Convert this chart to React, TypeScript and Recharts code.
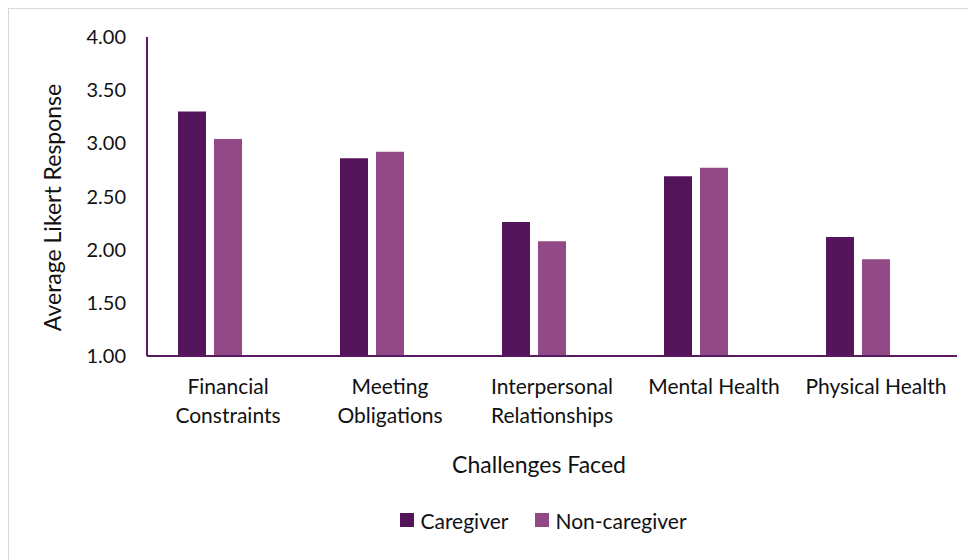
import React from "react";
import { BarChart, Bar, XAxis, YAxis, Legend, Label } from "recharts";

const categories = [
  "Financial Constraints",
  "Meeting Obligations",
  "Interpersonal Relationships",
  "Mental Health",
  "Physical Health",
];
const caregiver = [3.3, 2.86, 2.26, 2.69, 2.12];
const nonCaregiver = [3.04, 2.92, 2.08, 2.77, 1.91];
const yTicks = [1.0, 1.5, 2.0, 2.5, 3.0, 3.5, 4.0];

const data = categories.map((c, i) => ({
  name: c,
  Caregiver: caregiver[i],
  "Non-caregiver": nonCaregiver[i],
  blank: null,
}));

const FONT = "Lato, 'Noto Sans', sans-serif";
const TEXT = "#111111";
const AXIS = "#5a1a62";
const C1 = "#54145a";
const C2 = "#924a87";
const TICK_FS = 21;

let ctx: CanvasRenderingContext2D | null = null;
const measure = (s: string) => {
  if (!ctx) ctx = document.createElement("canvas").getContext("2d");
  if (!ctx) return s.length * TICK_FS * 0.5;
  ctx.font = `${TICK_FS}px Lato`;
  return ctx.measureText(s).width;
};

const wrap = (s: string, maxW: number) => {
  const words = s.split(" ");
  const lines: string[] = [];
  let cur = "";
  words.forEach((w) => {
    const t = cur ? cur + " " + w : w;
    if (cur && measure(t) > maxW) {
      lines.push(cur);
      cur = w;
    } else cur = t;
  });
  if (cur) lines.push(cur);
  return lines;
};

const CatTick = (props: any) => {
  const { x, y, payload } = props;
  const lines = wrap(String(payload.value), 156);
  return (
    <text x={x} y={y} textAnchor="middle" fontSize={TICK_FS} fontFamily={FONT} fill={TEXT}>
      {lines.map((l, i) => (
        <tspan key={i} x={x} dy={i === 0 ? 15 : 29}>
          {l}
        </tspan>
      ))}
    </text>
  );
};

const LegendContent = () => {
  const items = [
    { label: "Caregiver", color: C1 },
    { label: "Non-caregiver", color: C2 },
  ];
  return (
    <div
      style={{
        display: "flex",
        justifyContent: "center",
        alignItems: "center",
        height: 40,
        fontFamily: FONT,
        fontSize: 21,
        color: TEXT,
        paddingLeft: 103,
        boxSizing: "border-box",
        width: 968,
      }}
    >
      {items.map((it, i) => (
        <div key={i} style={{ display: "flex", alignItems: "center", marginRight: i === 0 ? 27 : 0 }}>
          <span style={{ width: 14, height: 14, background: it.color, display: "inline-block", marginRight: 6 }} />
          <span>{it.label}</span>
        </div>
      ))}
    </div>
  );
};

const YTitle = (props: any) => {
  const vb = props.viewBox;
  const x = vb.x + 44;
  const y = vb.y + vb.height / 2 + 11;
  return (
    <text
      x={x}
      y={y}
      transform={`rotate(-90 ${x} ${y})`}
      textAnchor="middle"
      dominantBaseline="central"
      fontSize={23}
      fontFamily={FONT}
      fill={TEXT}
    >
      Average Likert Response
    </text>
  );
};

const XTitle = (props: any) => {
  const vb = props.viewBox;
  const x = vb.x + vb.width / 2 - 13;
  const y = vb.y + 108;
  return (
    <text x={x} y={y} textAnchor="middle" dominantBaseline="central" fontSize={23} fontFamily={FONT} fill={TEXT}>
      Challenges Faced
    </text>
  );
};

export default function App() {
  return (
    <div style={{ position: "relative", width: 968, height: 552 }}>
      <div
        style={{
          position: "absolute",
          left: 0,
          top: 0,
          width: 968,
          height: 552,
          borderLeft: "1px solid #d9d9d9",
          borderTop: "1px solid #d9d9d9",
          boxSizing: "border-box",
        }}
      />
      <div style={{ position: "absolute", left: 0, top: 0 }}>
        <BarChart
          width={968}
          height={552}
          data={data}
          margin={{ top: 29, right: 19, left: 0, bottom: 20 }}
          barSize={28}
          barGap={8}
        >
          <XAxis
            dataKey="name"
            height={144}
            axisLine={{ stroke: AXIS, strokeWidth: 2 }}
            tickLine={false}
            tickSize={0}
            tickMargin={23}
            interval={0}
            tick={<CatTick />}
          >
            <Label content={<XTitle />} />
          </XAxis>
          <YAxis
            width={139}
            domain={[1, 4]}
            ticks={yTicks}
            tickFormatter={(v: number) => v.toFixed(2)}
            axisLine={{ stroke: AXIS, strokeWidth: 2 }}
            tickLine={false}
            tickSize={0}
            tickMargin={21}
            tick={{ fontSize: 20, fontFamily: FONT, fill: TEXT }}
            allowDataOverflow
          >
            <Label content={<YTitle />} />
          </YAxis>
          <Legend
            verticalAlign="bottom"
            height={40}
            wrapperStyle={{ left: 0, width: 968 }}
            content={<LegendContent />}
          />
          <Bar dataKey="Caregiver" fill={C1} isAnimationActive={false} />
          <Bar dataKey="Non-caregiver" fill={C2} isAnimationActive={false} />
          <Bar dataKey="blank" fill="none" legendType="none" isAnimationActive={false} />
        </BarChart>
      </div>
    </div>
  );
}
